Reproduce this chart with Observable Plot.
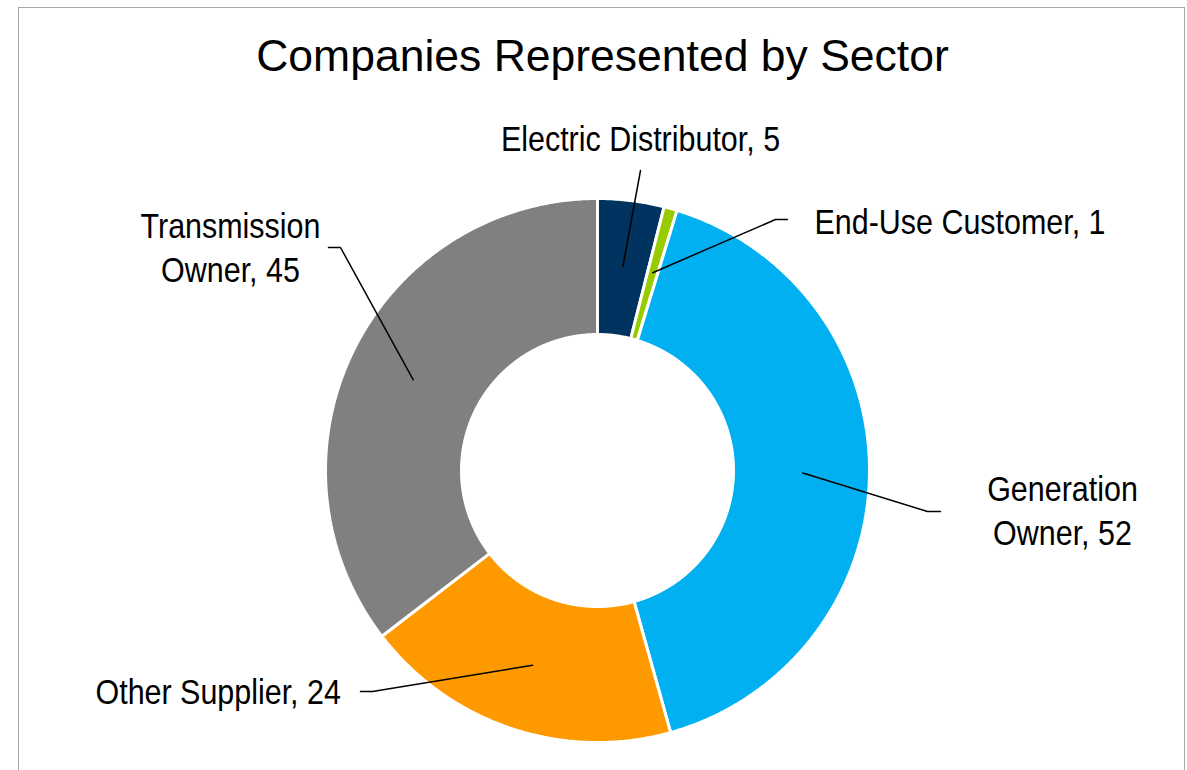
<!DOCTYPE html>
<html>
<head>
<meta charset="utf-8">
<script src="https://cdn.jsdelivr.net/npm/d3@7"></script>
<script src="https://cdn.jsdelivr.net/npm/@observablehq/plot@0.6"></script>
<style>
  html, body { margin: 0; padding: 0; background: #fff; }
  #wrap { position: relative; width: 1187px; height: 770px; overflow: hidden; }
  #frame { position: absolute; left: 18px; top: 7px; width: 1167px; height: 800px; border: 1.5px solid #A8A8A8; box-sizing: border-box; }
  #chart { position: absolute; left: 0; top: 0; }
</style>
</head>
<body>
<div id="wrap"><div id="frame"></div><div id="chart"></div></div>
<script>
// ---- data ----
const title = "Companies Represented by Sector";
const categories = ["Electric Distributor", "End-Use Customer", "Generation Owner", "Other Supplier", "Transmission Owner"];
const values = [5, 1, 52, 24, 45];
const labelTexts = ["Electric Distributor, 5", "End-Use Customer, 1", "Generation\nOwner, 52", "Other Supplier, 24", "Transmission\nOwner, 45"];
const colors = ["#00335F", "#99CC00", "#00B0F0", "#FF9900", "#808080"];

// ---- layout (pixels) ----
const W = 1187, H = 770;
const cx = 597, cy = 470, R = 272;     // donut centre and outer radius
const innerFrac = 0.5;                 // inner radius / outer radius
const leaderFrac = 0.755;              // leader starts at ring middle
const labelLayout = [
  {x: 640, y: 150, anchor: "middle", elbow: null,       end: [640, 170]},
  {x: 814, y: 233, anchor: "start",  elbow: [775, 219], end: [787, 219]},
  {x: 1062, y: 544, anchor: "middle", elbow: [927, 511], end: [940, 511]},
  {x: 95,  y: 703, anchor: "start",  elbow: [372, 691], end: [360, 691]},
  {x: 230, y: 281, anchor: "middle", elbow: [340, 247], end: [328, 247]}
];
const labelFontSize = 35;
const narrowScale = 0.87;              // emulate a narrow face with Liberation Sans
const fontLabel = "'Liberation Sans', Arial, sans-serif";
const fontTitle = "'Liberation Sans', Arial, sans-serif";

// pixel -> unit helpers (so everything goes through Plot's scales)
const ux = px => (px - cx) / R;
const uy = py => (cy - py) / R;

// ---- sector geometry from data ----
const total = d3.sum(values);
let cum = 0;
const sectors = categories.map((c, i) => {
  const a0 = cum / total * 2 * Math.PI;
  cum += values[i];
  const a1 = cum / total * 2 * Math.PI;
  return {key: c, a0, a1, mid: (a0 + a1) / 2, color: colors[i], i};
});

function ringPoints(s) {
  const n = Math.max(4, Math.ceil((s.a1 - s.a0) / (Math.PI / 360)));
  const pts = [];
  for (let k = 0; k <= n; k++) {
    const a = s.a0 + (s.a1 - s.a0) * k / n;
    pts.push({x: Math.sin(a), y: Math.cos(a)});
  }
  for (let k = n; k >= 0; k--) {
    const a = s.a0 + (s.a1 - s.a0) * k / n;
    pts.push({x: innerFrac * Math.sin(a), y: innerFrac * Math.cos(a)});
  }
  return pts;
}

const sectorMarks = sectors.map(s =>
  Plot.line(ringPoints(s), {x: "x", y: "y", curve: "linear-closed", fill: s.color, stroke: "white", strokeWidth: 3, strokeLinejoin: "miter"})
);

const leaderMarks = sectors.map((s, i) => {
  const L = labelLayout[i];
  const pts = [{x: leaderFrac * Math.sin(s.mid), y: leaderFrac * Math.cos(s.mid)}];
  if (L.elbow) pts.push({x: ux(L.elbow[0]), y: uy(L.elbow[1])});
  pts.push({x: ux(L.end[0]), y: uy(L.end[1])});
  return Plot.line(pts, {x: "x", y: "y", stroke: "black", strokeWidth: 1.5});
});

const labelData = sectors.map((s, i) => ({text: labelTexts[i], x: ux(labelLayout[i].x), y: uy(labelLayout[i].y), anchor: labelLayout[i].anchor}));
const labelMarks = ["start", "middle"].map(anchor =>
  Plot.text(labelData.filter(d => d.anchor === anchor), {
    x: "x", y: "y", text: "text", textAnchor: anchor, lineAnchor: "bottom",
    lineHeight: 1.24, fontSize: labelFontSize, fontFamily: fontLabel, fill: "black"
  })
);

const titleMark = Plot.text([{t: title, x: ux(602), y: uy(70)}], {
  x: "x", y: "y", text: "t", textAnchor: "middle", lineAnchor: "bottom",
  fontSize: 44.5, fontFamily: fontTitle, fill: "black"
});

const chart = Plot.plot({
  width: W, height: H, margin: 0,
  x: {domain: [-1, 1], range: [cx - R, cx + R], axis: null},
  y: {domain: [-1, 1], range: [cy + R, cy - R], axis: null},
  style: {background: "transparent", overflow: "visible"},
  marks: [...sectorMarks, ...leaderMarks, ...labelMarks, titleMark]
});
// condense the label text horizontally around each anchor
chart.querySelectorAll(`g[font-size="${labelFontSize}"] text`).forEach(t => {
  const tr = t.getAttribute("transform") || "";
  t.setAttribute("transform", `${tr} scale(${narrowScale},1)`);
});
document.getElementById("chart").appendChild(chart);
</script>
</body>
</html>
